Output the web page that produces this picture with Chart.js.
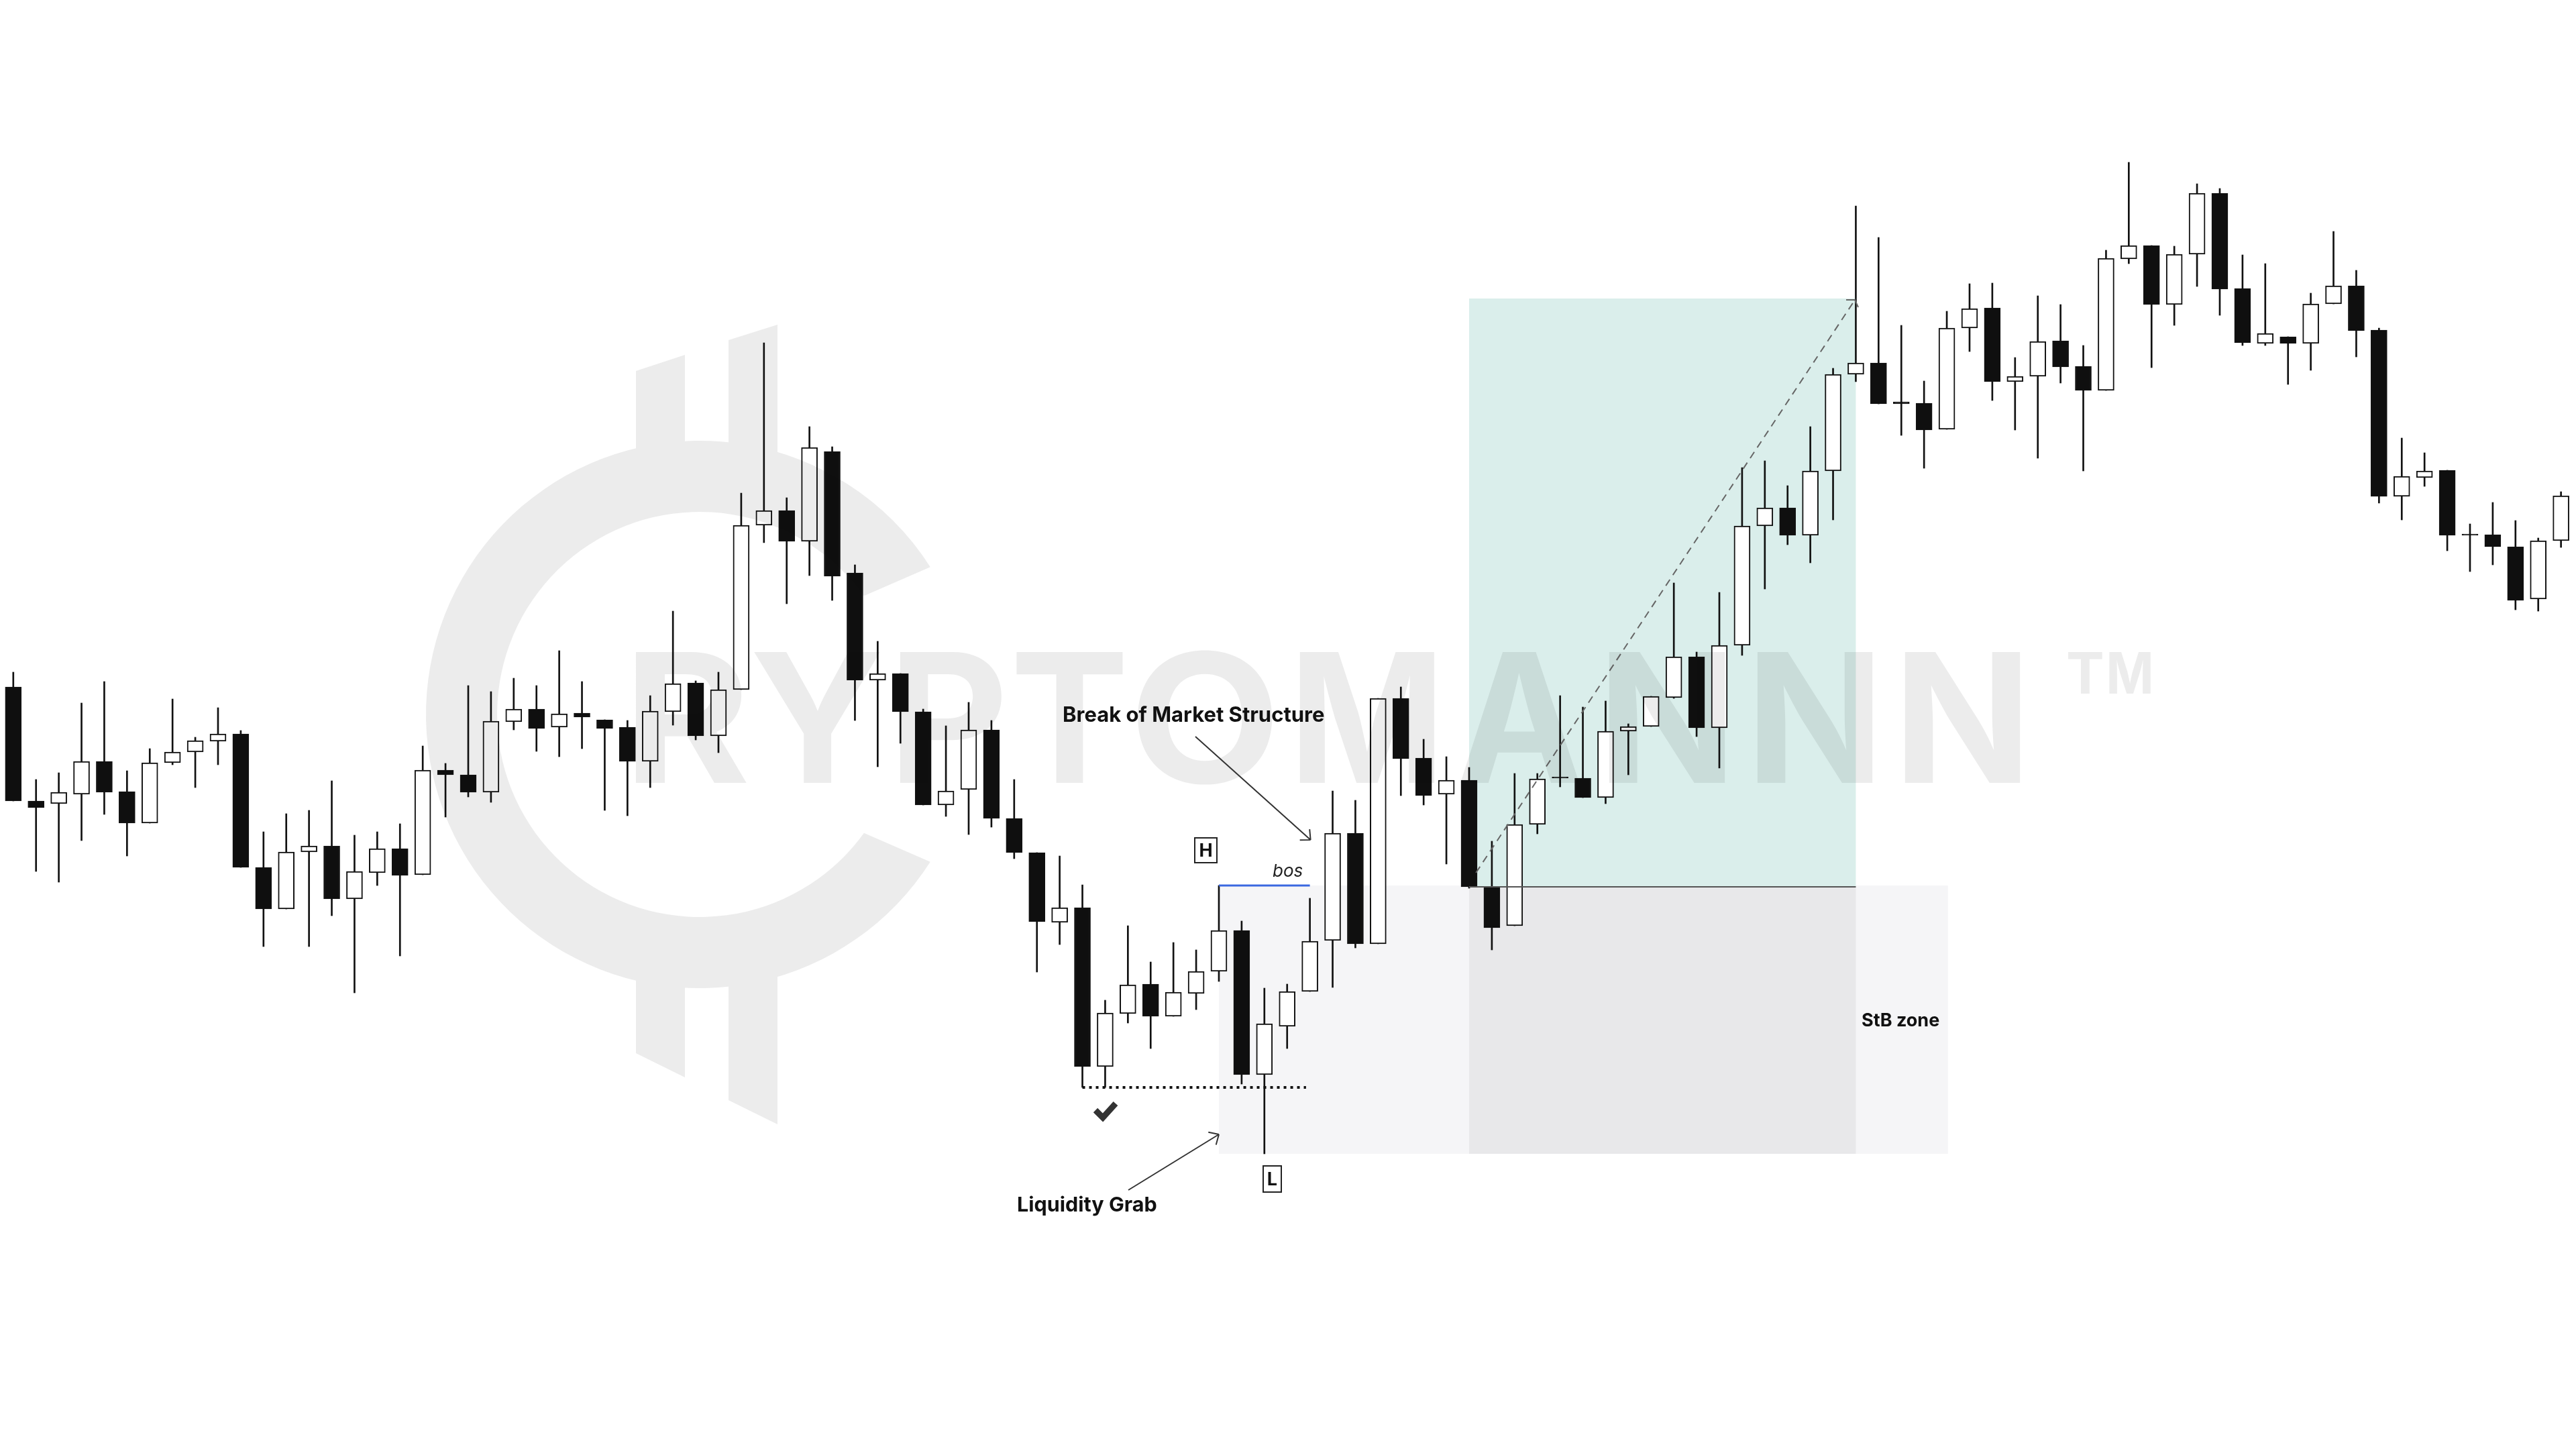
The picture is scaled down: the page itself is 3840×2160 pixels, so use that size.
<!DOCTYPE html>
<html>
<head>
<meta charset="utf-8">
<title>Break of Market Structure</title>
<script src="https://cdn.jsdelivr.net/npm/chart.js@4"></script>
<style>
  html, body { margin: 0; padding: 0; background: #fff; }
  canvas { display: block; }
</style>
</head>
<body>
<canvas id="chart" width="3840" height="2160"></canvas>
<script>
// Candles, price units have no labels in the original
const opens = [
    1136, 966, 962, 976, 1025, 980, 933, 1023, 1039, 1055,
    1066, 867, 805, 890, 899, 820, 859, 895, 856, 1012,
    1005, 979, 1084, 1103, 1076, 1097, 1087, 1076, 1025, 1099,
    1142, 1063, 1132, 1377, 1399, 1353, 1487, 1306, 1146, 1156,
    1099, 960, 983, 1072, 940, 889, 785, 807, 570, 649,
    693, 645, 679, 712, 773, 558, 630, 682, 758, 918,
    753, 1119, 1030, 976, 997, 837, 780, 931, 1000, 1000,
    971, 1070, 1077, 1120, 1181, 1075, 1198, 1376, 1403, 1362,
    1458, 1602, 1619, 1561, 1559, 1520, 1671, 1701, 1591, 1599,
    1652, 1614, 1578, 1774, 1794, 1706, 1781, 1872, 1730, 1648,
    1658, 1648, 1707, 1734, 1668, 1420, 1448, 1459, 1362, 1363,
    1345, 1267, 1354
];
const closes = [
    966, 956, 979, 1025, 979, 933, 1023, 1039, 1056, 1066,
    867, 805, 890, 899, 820, 861, 895, 855, 1012, 1005,
    979, 1085, 1103, 1074, 1096, 1091, 1074, 1025, 1100, 1141,
    1063, 1132, 1377, 1399, 1353, 1493, 1301, 1146, 1156, 1099,
    960, 981, 1072, 940, 889, 786, 807, 570, 650, 692,
    645, 681, 712, 773, 558, 634, 682, 757, 918, 753,
    1119, 1029, 974, 997, 838, 777, 931, 999, 1000, 971,
    1070, 1077, 1122, 1181, 1075, 1198, 1376, 1403, 1362, 1458,
    1602, 1619, 1558, 1558, 1519, 1671, 1700, 1591, 1599, 1651,
    1613, 1578, 1775, 1794, 1706, 1781, 1872, 1729, 1649, 1663,
    1648, 1707, 1734, 1667, 1420, 1450, 1458, 1362, 1362, 1345,
    1265, 1354, 1421
];
const highs = [
    1158, 998, 1008, 1112, 1144, 1011, 1044, 1118, 1061, 1105,
    1071, 920, 947, 952, 996, 915, 920, 932, 1048, 1022,
    1138, 1129, 1149, 1138, 1190, 1144, 1087, 1086, 1123, 1249,
    1145, 1158, 1425, 1649, 1418, 1524, 1494, 1318, 1204, 1156,
    1103, 1078, 1113, 1086, 998, 889, 884, 841, 669, 780,
    726, 755, 744, 840, 787, 687, 693, 821, 981, 967,
    1119, 1136, 1058, 1032, 1016, 906, 1007, 1007, 1123, 1106,
    1115, 1081, 1122, 1291, 1188, 1277, 1463, 1473, 1436, 1524,
    1611, 1853, 1806, 1675, 1592, 1696, 1737, 1738, 1627, 1719,
    1706, 1645, 1787, 1918, 1794, 1793, 1886, 1879, 1780, 1767,
    1658, 1723, 1815, 1757, 1671, 1507, 1485, 1459, 1379, 1411,
    1384, 1358, 1427
];
const lows = [
    966, 861, 845, 907, 946, 884, 933, 1020, 986, 1020,
    867, 749, 805, 749, 795, 680, 840, 735, 856, 942,
    972, 964, 1072, 1040, 1032, 1044, 952, 944, 986, 1079,
    1057, 1038, 1132, 1351, 1260, 1302, 1265, 1086, 1017, 1052,
    960, 943, 916, 927, 880, 711, 752, 539, 539, 635,
    597, 645, 655, 697, 544, 440, 597, 682, 688, 747,
    753, 974, 960, 872, 836, 744, 780, 917, 987, 971,
    962, 1005, 1077, 1119, 1062, 1015, 1183, 1282, 1348, 1321,
    1385, 1591, 1558, 1511, 1462, 1520, 1636, 1563, 1519, 1477,
    1589, 1458, 1578, 1767, 1612, 1675, 1733, 1690, 1645, 1645,
    1587, 1608, 1707, 1628, 1410, 1385, 1435, 1339, 1308, 1318,
    1251, 1249, 1344
];

// Levels marked on the chart, x in candle numbers, y in price
const bosLine = [[53, 840], [57, 840]];
const liquidityLine = [[47, 539], [56.83, 539]];
const targetDiagonal = [[64.3, 859], [81, 1715]];
const entryLine = [[64, 838], [81, 838]];

const stbZone = [53, 85.05, 440, 840];
const riskZone = [64, 81, 440, 838];
const targetZone = [64, 81, 838, 1715];

const candleIndex = opens.map(function(_, i) { return i; });

function linePoints(points) {
    return points.map(function(p) { return { x: p[0], y: p[1] }; });
}

function levelDataset(points, color, width, dash) {
    return {
        type: 'line',
        data: linePoints(points),
        borderColor: color,
        borderWidth: width,
        borderDash: dash,
        pointRadius: 0,
        fill: false,
        tension: 0,
        order: 1
    };
}

function drawZone(ctx, scales, zone, color) {
    const left = scales.x.getPixelForValue(zone[0]);
    const right = scales.x.getPixelForValue(zone[1]);
    const bottom = scales.y.getPixelForValue(zone[2]);
    const top = scales.y.getPixelForValue(zone[3]);
    ctx.fillStyle = color;
    ctx.fillRect(left, top, right - left, bottom - top);
}

// Shaded boxes go behind the candles
const zonesPlugin = {
    id: 'zones',
    beforeDatasetsDraw: function(chart) {
        const ctx = chart.ctx;
        ctx.save();
        drawZone(ctx, chart.scales, stbZone, '#f5f5f7');
        drawZone(ctx, chart.scales, riskZone, '#e8e8ea');
        drawZone(ctx, chart.scales, targetZone, '#daeeeb');
        ctx.restore();
    }
};

// Draw one letter stretched into a given box
function boxLetter(ctx, letter, left, right, baseline, fontSize) {
    ctx.font = '700 ' + fontSize + 'px Inter';
    const m = ctx.measureText(letter);
    const inkLeft = -m.actualBoundingBoxLeft;
    const inkWidth = m.actualBoundingBoxRight + m.actualBoundingBoxLeft;
    ctx.save();
    ctx.translate(left, baseline);
    ctx.scale((right - left) / inkWidth, 1);
    ctx.fillText(letter, -inkLeft, 0);
    ctx.restore();
}

// Watermark sits over everything and darkens it, the white candles turn grey under it
const watermarkPlugin = {
    id: 'watermark',
    afterDatasetsDraw: function(chart) {
        const ctx = chart.ctx;
        ctx.save();
        ctx.globalCompositeOperation = 'multiply';
        ctx.fillStyle = '#ececec';

        ctx.beginPath();
        const a = 32.6 * Math.PI / 180;
        const b = 35.8 * Math.PI / 180;
        ctx.arc(1043, 1065, 408, a, 2 * Math.PI - a);
        ctx.arc(1043, 1065, 302, -b, b, true);
        ctx.closePath();
        const bars = [
            [948, 553, 1021, 529, 720], [1086, 507, 1159, 484, 720]
        ];
        bars.forEach(function(s) {
            ctx.moveTo(s[0], s[1]);
            ctx.lineTo(s[2], s[3]);
            ctx.lineTo(s[2], s[4]);
            ctx.lineTo(s[0], s[4]);
            ctx.closePath();
        });
        const lowerBars = [
            [948, 1570, 1021, 1606, 1410], [1086, 1640, 1159, 1676, 1410]
        ];
        lowerBars.forEach(function(s) {
            ctx.moveTo(s[0], s[4]);
            ctx.lineTo(s[2], s[4]);
            ctx.lineTo(s[2], s[3]);
            ctx.lineTo(s[0], s[1]);
            ctx.closePath();
        });
        ctx.fill();

        const letters = [
            ['R', 947, 1114], ['Y', 1122, 1315], ['P', 1341, 1497], ['T', 1514, 1676],
            ['O', 1692, 1899], ['M', 1937, 2140], ['A', 2175, 2357], ['N', 2398, 2573],
            ['N', 2619, 2793], ['N', 2839, 3013]
        ];
        letters.forEach(function(l) {
            boxLetter(ctx, l[0], l[1], l[2], 1167, 268);
        });
        boxLetter(ctx, 'T', 3083, 3134, 1034, 85);
        boxLetter(ctx, 'M', 3144, 3206, 1034, 85);
        ctx.restore();
    }
};

function drawArrow(ctx, x1, y1, x2, y2) {
    const angle = Math.atan2(y2 - y1, x2 - x1);
    ctx.beginPath();
    ctx.moveTo(x1, y1);
    ctx.lineTo(x2, y2);
    [-0.75, 0.75].forEach(function(d) {
        ctx.moveTo(x2, y2);
        ctx.lineTo(x2 - 16 * Math.cos(angle + d), y2 - 16 * Math.sin(angle + d));
    });
    ctx.stroke();
}

function drawBoxedLetter(ctx, letter, x, y, w, h) {
    ctx.strokeRect(x, y, w, h);
    ctx.font = '700 27px Inter';
    ctx.textAlign = 'center';
    ctx.textBaseline = 'middle';
    ctx.fillText(letter, x + w / 2, y + h / 2 + 1);
    ctx.textAlign = 'left';
    ctx.textBaseline = 'alphabetic';
}

// Labels, arrows and the tick under the liquidity level
const labelsPlugin = {
    id: 'labels',
    afterDatasetsDraw: function(chart) {
        const ctx = chart.ctx;
        const sx = chart.scales.x;
        const sy = chart.scales.y;
        ctx.save();
        ctx.fillStyle = '#111';
        ctx.strokeStyle = '#333';
        ctx.lineWidth = 2;

        drawArrow(ctx, 1782, 1098, sx.getPixelForValue(57.03), sy.getPixelForValue(908));
        drawArrow(ctx, 1682, 1774, sx.getPixelForValue(53), sy.getPixelForValue(469));

        // little head at the end of the dashed diagonal
        ctx.strokeStyle = '#666';
        ctx.beginPath();
        ctx.moveTo(2752, 447);
        ctx.lineTo(2765, 447);
        ctx.lineTo(2770, 458);
        ctx.stroke();

        ctx.strokeStyle = '#222';
        drawBoxedLetter(ctx, 'H', 1781, 1249, 33, 37);
        drawBoxedLetter(ctx, 'L', 1883, 1738, 27, 39);

        ctx.font = '700 31px Inter';
        ctx.fillText('Break of Market Structure', 1584, 1076);
        ctx.font = '700 30.5px Inter';
        ctx.fillText('Liquidity Grab', 1516, 1806);
        ctx.font = '700 27px Inter';
        ctx.fillText('StB zone', 2775, 1530);
        ctx.font = 'italic 400 26px Inter';
        ctx.fillStyle = '#222';
        ctx.fillText('bos', 1897, 1307);

        ctx.strokeStyle = '#333';
        ctx.lineWidth = 9;
        ctx.lineJoin = 'miter';
        ctx.beginPath();
        ctx.moveTo(1633, 1655);
        ctx.lineTo(1644, 1666);
        ctx.lineTo(1663, 1645);
        ctx.stroke();
        ctx.restore();
    }
};

const bgPlugin = {
    id: 'bg',
    beforeDraw: function(chart) {
        chart.ctx.save();
        chart.ctx.fillStyle = '#fff';
        chart.ctx.fillRect(0, 0, chart.width, chart.height);
        chart.ctx.restore();
    }
};

new Chart(document.getElementById('chart').getContext('2d'), {
    type: 'bar',
    data: {
        datasets: [
            {
                label: 'wicks',
                data: candleIndex.map(function(i) { return { x: i, y: [lows[i], highs[i]] }; }),
                backgroundColor: '#111',
                barThickness: 2,
                grouped: false,
                order: 3
            },
            {
                label: 'bodies',
                data: candleIndex.map(function(i) { return { x: i, y: [opens[i], closes[i]] }; }),
                backgroundColor: candleIndex.map(function(i) {
                    return closes[i] > opens[i] ? '#ffffff' : '#0f0f0f';
                }),
                borderColor: '#111',
                borderWidth: 2,
                borderSkipped: false,
                barThickness: 24,
                minBarLength: 2,
                grouped: false,
                order: 2
            },
            levelDataset(targetDiagonal, '#666', 2, [11, 8]),
            levelDataset(entryLine, '#555', 2, []),
            levelDataset(bosLine, '#3b68e0', 3, []),
            levelDataset(liquidityLine, '#111', 4, [4, 6])
        ]
    },
    options: {
        responsive: false,
        animation: false,
        events: [],
        layout: { padding: 0 },
        plugins: {
            legend: { display: false },
            tooltip: { enabled: false },
            title: { display: false }
        },
        scales: {
            x: { type: 'linear', display: false, offset: false, min: -0.584, max: 112.66 },
            y: { type: 'linear', display: false, min: 0, max: 2160 }
        }
    },
    plugins: [bgPlugin, zonesPlugin, watermarkPlugin, labelsPlugin]
});
</script>
</body>
</html>
